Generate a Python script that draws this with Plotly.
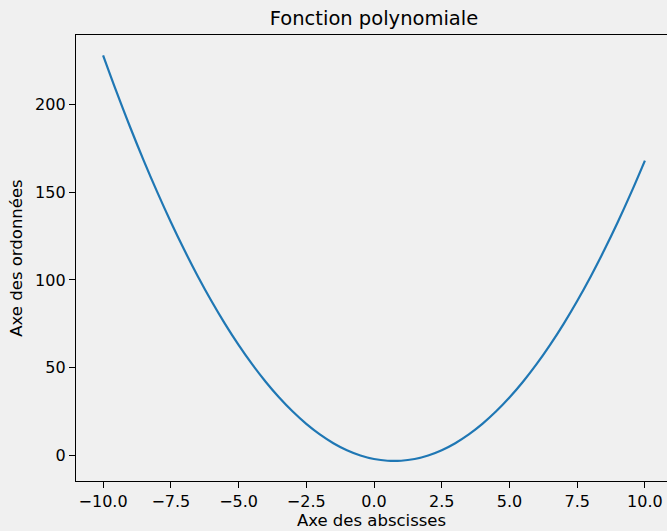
import plotly.graph_objects as go

# Sampled values of the polynomial curve
x_values = [-10.0, -9.5, -9.0, -8.5, -8.0, -7.5, -7.0, -6.5, -6.0, -5.5, -5.0,
            -4.5, -4.0, -3.5, -3.0, -2.5, -2.0, -1.5, -1.0, -0.5, 0.0,
            0.5, 1.0, 1.5, 2.0, 2.5, 3.0, 3.5, 4.0, 4.5, 5.0,
            5.5, 6.0, 6.5, 7.0, 7.5, 8.0, 8.5, 9.0, 9.5, 10.0]
y_values = [228, 207, 187, 168, 150, 133, 117, 102, 88, 75, 63,
            52, 42, 33, 25, 18, 12, 7, 3, 0, -2,
            -3, -3, -2, 0, 3, 7, 12, 18, 25, 33,
            42, 52, 63, 75, 88, 102, 117, 133, 150, 168]

title_text = "Fonction polynomiale"
x_label = "Axe des abscisses"
y_label = "Axe des ordonnées"

W, H = 667, 531
ML, MT, MB, MR = 76, 35, 50, 0
BG = "#f0f0f0"
FONT = "DejaVu Sans"

# 5% padding around the data, like matplotlib's autoscale
xmin, xmax = min(x_values), max(x_values)
xpad = 0.05 * (xmax - xmin)
ymin, ymax = min(y_values), max(y_values)
ypad = 0.05 * (ymax - ymin)
x_lo = xmin - xpad
full_width_px = 596  # axes width of the full box; the right edge runs past the canvas
visible_px = W - ML - MR
x_hi = x_lo + (xmax + xpad - x_lo) * visible_px / full_width_px

fig = go.Figure(
    go.Scatter(
        x=x_values, y=y_values, mode="lines",
        line=dict(color="#1f77b4", width=2.2, shape="spline"),
        hoverinfo="skip", showlegend=False,
    )
)

fig.update_layout(
    width=W, height=H,
    margin=dict(l=ML, r=MR, t=MT, b=MB, pad=0),
    paper_bgcolor=BG, plot_bgcolor=BG,
    font=dict(family=FONT, size=16, color="black"),
    title=dict(text=title_text, font=dict(size=19.5, family=FONT, color="black"),
               x=(ML + full_width_px / 2) / W, xref="container", xanchor="center",
               y=1 - 18 / H, yref="container", yanchor="middle"),
)

fig.update_xaxes(
    range=[x_lo, x_hi], tick0=0, dtick=2.5, tickformat=".1f",
    showgrid=False, zeroline=False,
    showline=True, linecolor="black", linewidth=1.3, mirror=True,
    ticks="outside", ticklen=6, tickwidth=1.2, tickcolor="black",
    tickfont=dict(size=16),
    title=dict(text=x_label, font=dict(size=16.5), standoff=4),
)
fig.update_yaxes(
    range=[ymin - ypad, ymax + ypad], tick0=0, dtick=50,
    showgrid=False, zeroline=False,
    showline=True, linecolor="black", linewidth=1.3, mirror=False,
    ticks="outside", ticklen=6, tickwidth=1.2, tickcolor="black",
    tickfont=dict(size=16),
    title=dict(text=y_label, font=dict(size=16.5), standoff=8),
)

fig.write_html("out.html")
